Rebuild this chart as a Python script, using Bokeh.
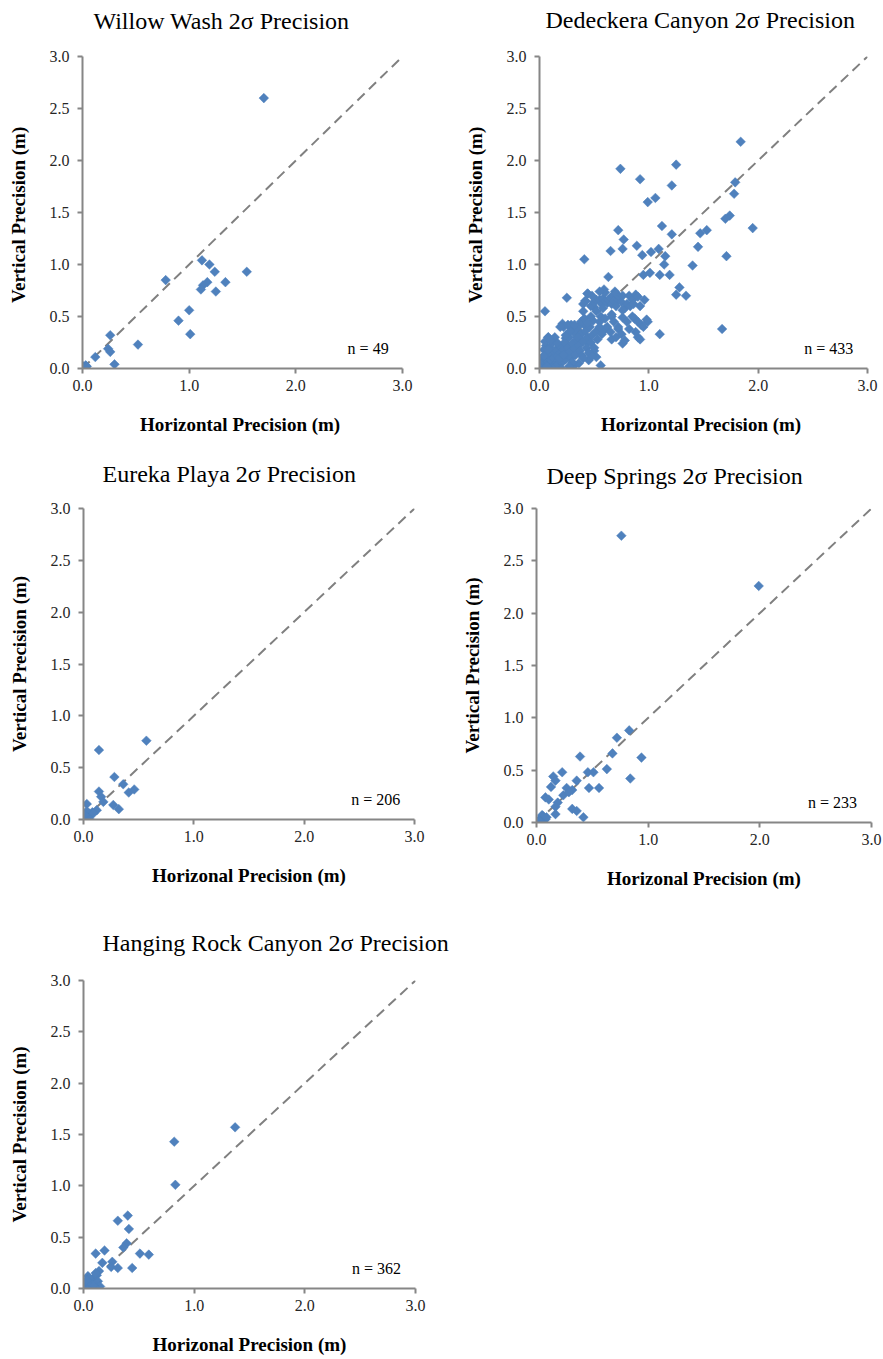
from bokeh.plotting import figure
from bokeh.layouts import column, row
from bokeh.models import Range1d, FixedTicker, PrintfTickFormatter, Label
from bokeh.core.properties import value
from bokeh.embed import file_html
from bokeh.resources import INLINE
import numpy as np

# ---- data: 2-sigma precision (m), horizontal vs vertical ----
willow_h = [1.70, 1.12, 1.19, 1.24, 1.54, 0.78, 1.34, 1.17, 1.13, 1.11, 1.25, 1.00, 0.90, 1.01,
            0.26, 0.52, 0.24, 0.26, 0.12, 0.30, 0.01, 0.02, 0.03, 0.00, 0.01, 0.04]
willow_v = [2.60, 1.04, 1.00, 0.93, 0.93, 0.85, 0.83, 0.83, 0.80, 0.76, 0.74, 0.56, 0.46, 0.33,
            0.32, 0.23, 0.19, 0.16, 0.11, 0.04, 0.02, 0.01, 0.03, 0.00, 0.00, 0.02]

dedeckera_h = [1.84, 1.25, 0.74, 0.92, 1.79, 1.21, 1.78, 1.06, 0.99, 1.74, 1.70, 1.12, 1.95, 1.53,
               1.47, 0.72, 1.21, 0.77, 1.45, 0.89, 1.09, 0.76, 0.65, 1.02, 0.94, 1.15, 1.71, 0.41,
               1.14, 1.40, 1.01, 0.95, 1.10, 1.19, 0.63, 1.28, 1.25, 1.34, 0.25, 1.67, 1.10, 0.05,
               0.44, 0.42, 0.59, 0.69, 0.40, 0.50, 0.66, 0.76, 0.87, 0.99, 0.93, 0.21, 0.29, 0.34,
               0.41, 0.49, 0.55, 0.60, 0.72, 0.66, 0.76, 0.90, 0.08, 0.24, 0.35, 0.44, 0.50, 0.52,
               0.56, 0.32,
               0.47, 0.50, 0.52, 0.55, 0.57, 0.58, 0.60, 0.62, 0.63, 0.65, 0.66, 0.67, 0.68, 0.70,
               0.70, 0.72, 0.73, 0.75, 0.76, 0.78, 0.80, 0.82, 0.83, 0.85, 0.88, 0.90, 0.92, 0.96,
               0.60, 0.55, 0.48, 0.44, 0.42, 0.40,
               0.02, 0.03, 0.05, 0.06, 0.08, 0.09, 0.10, 0.11, 0.12, 0.13, 0.14, 0.15, 0.16, 0.17,
               0.18, 0.19, 0.20, 0.21, 0.22, 0.23, 0.24, 0.25, 0.26, 0.27, 0.28, 0.29, 0.30, 0.31,
               0.32, 0.33, 0.34, 0.35, 0.36, 0.37, 0.38, 0.39, 0.40, 0.42, 0.43, 0.44, 0.45, 0.46,
               0.47, 0.48, 0.50, 0.52, 0.53, 0.55, 0.57,
               0.04, 0.06, 0.07, 0.05, 0.08, 0.10, 0.12, 0.02, 0.01, 0.03, 0.00, 0.04, 0.09, 0.15,
               0.20, 0.12, 0.07, 0.18, 0.22, 0.24, 0.28, 0.26, 0.32, 0.35, 0.38, 0.41, 0.44, 0.47,
               0.36, 0.30, 0.45, 0.48, 0.40, 0.27, 0.22, 0.19, 0.16, 0.14, 0.10, 0.08,
               0.52, 0.56, 0.60, 0.62, 0.65, 0.68, 0.70, 0.72, 0.75, 0.78, 0.80, 0.82, 0.85, 0.88,
               0.90, 0.92, 0.95, 0.98, 0.86, 0.76, 0.66, 0.58]
dedeckera_v = [2.18, 1.96, 1.92, 1.82, 1.79, 1.76, 1.68, 1.64, 1.60, 1.47, 1.44, 1.37, 1.35, 1.33,
               1.30, 1.33, 1.29, 1.24, 1.17, 1.18, 1.15, 1.15, 1.13, 1.12, 1.09, 1.08, 1.08, 1.05,
               1.00, 0.99, 0.92, 0.90, 0.90, 0.90, 0.88, 0.78, 0.71, 0.70, 0.68, 0.38, 0.33, 0.55,
               0.72, 0.65, 0.76, 0.74, 0.55, 0.59, 0.50, 0.49, 0.48, 0.45, 0.42, 0.43, 0.42, 0.38,
               0.42, 0.46, 0.45, 0.38, 0.38, 0.28, 0.24, 0.30, 0.30, 0.29, 0.30, 0.25, 0.17, 0.11,
               0.03, 0.03,
               0.60, 0.64, 0.66, 0.66, 0.62, 0.67, 0.65, 0.63, 0.66, 0.68, 0.62, 0.70, 0.65, 0.72,
               0.60, 0.66, 0.69, 0.64, 0.70, 0.58, 0.62, 0.70, 0.60, 0.66, 0.71, 0.69, 0.60, 0.66,
               0.73, 0.74, 0.70, 0.72, 0.65, 0.62,
               0.02, 0.05, 0.01, 0.08, 0.04, 0.12, 0.02, 0.07, 0.15, 0.10, 0.04, 0.18, 0.12, 0.08,
               0.22, 0.15, 0.05, 0.11, 0.18, 0.25, 0.09, 0.14, 0.20, 0.30, 0.16, 0.10, 0.24, 0.35,
               0.19, 0.13, 0.28, 0.40, 0.22, 0.17, 0.33, 0.12, 0.26, 0.36, 0.20, 0.30, 0.15, 0.40,
               0.25, 0.32, 0.20, 0.36, 0.28, 0.40, 0.33,
               0.18, 0.22, 0.14, 0.26, 0.30, 0.20, 0.25, 0.10, 0.04, 0.00, 0.02, 0.12, 0.00, 0.02,
               0.00, 0.00, 0.02, 0.10, 0.13, 0.32, 0.36, 0.42, 0.42, 0.30, 0.45, 0.48, 0.44, 0.50,
               0.05, 0.06, 0.08, 0.12, 0.10, 0.02, 0.40, 0.40, 0.25, 0.30, 0.27, 0.18,
               0.55, 0.50, 0.48, 0.40, 0.35, 0.45, 0.30, 0.40, 0.33, 0.27, 0.45, 0.38, 0.50, 0.35,
               0.45, 0.28, 0.40, 0.47, 0.62, 0.56, 0.52, 0.58]

eureka_h = [0.57, 0.14, 0.28, 0.36, 0.46, 0.41, 0.14, 0.16, 0.18, 0.27, 0.32, 0.03, 0.12, 0.08,
            0.05, 0.02, 0.01, 0.04, 0.06, 0.03, 0.00, 0.05, 0.02, 0.09, 0.01]
eureka_v = [0.76, 0.67, 0.41, 0.34, 0.29, 0.26, 0.27, 0.22, 0.17, 0.14, 0.10, 0.15, 0.09, 0.07,
            0.06, 0.05, 0.02, 0.03, 0.04, 0.08, 0.00, 0.01, 0.01, 0.06, 0.04]

deep_h = [0.76, 1.99, 0.83, 0.72, 0.39, 0.68, 0.94, 0.63, 0.23, 0.46, 0.51, 0.15, 0.17, 0.36,
          0.84, 0.13, 0.27, 0.32, 0.47, 0.56, 0.08, 0.11, 0.24, 0.29, 0.19, 0.17, 0.32, 0.36,
          0.17, 0.42, 0.02, 0.04, 0.06, 0.08, 0.05, 0.01, 0.00, 0.03, 0.09]
deep_v = [2.74, 2.26, 0.88, 0.81, 0.63, 0.66, 0.62, 0.51, 0.48, 0.48, 0.48, 0.44, 0.40, 0.40,
          0.42, 0.34, 0.33, 0.31, 0.33, 0.33, 0.24, 0.22, 0.26, 0.29, 0.19, 0.15, 0.13, 0.11,
          0.08, 0.05, 0.02, 0.04, 0.06, 0.03, 0.07, 0.00, 0.00, 0.01, 0.05]

hanging_h = [1.37, 0.82, 0.83, 0.40, 0.31, 0.41, 0.39, 0.36, 0.19, 0.11, 0.51, 0.59, 0.26, 0.17,
             0.25, 0.31, 0.44, 0.14, 0.12, 0.09, 0.07, 0.05, 0.13, 0.10, 0.04, 0.15, 0.08, 0.03,
             0.06, 0.02, 0.01, 0.00, 0.11, 0.05, 0.09, 0.03]
hanging_v = [1.57, 1.43, 1.01, 0.71, 0.66, 0.58, 0.44, 0.40, 0.37, 0.34, 0.34, 0.33, 0.26, 0.25,
             0.21, 0.20, 0.20, 0.17, 0.13, 0.10, 0.08, 0.06, 0.07, 0.04, 0.12, 0.02, 0.01, 0.03,
             0.05, 0.00, 0.02, 0.00, 0.15, 0.10, 0.03, 0.08]

one_to_one = [0.0, 3.0]
x_ticks = [0.0, 1.0, 2.0, 3.0]
y_ticks = [0.0, 0.5, 1.0, 1.5, 2.0, 2.5, 3.0]

SERIF = "Liberation Serif"
BLUE = "#4F81BD"
AXIS_GREY = "#868686"
PAGE_W = 883


def title_strip(height, titles, lefts, middles):
    """A frameless band holding the chart titles of one row (positions in pixels)."""
    s = figure(frame_width=PAGE_W, frame_height=height,
               min_border_left=0, min_border_right=0, min_border_top=0, min_border_bottom=0,
               x_range=Range1d(0, PAGE_W), y_range=Range1d(height, 0),
               x_axis_type=None, y_axis_type=None,
               output_backend="svg", toolbar_location=None,
               background_fill_color="white", border_fill_color="white")
    s.outline_line_color = None
    s.grid.visible = False
    s.text(x=lefts, y=middles, text=titles, text_font=value(SERIF),
           text_font_size="24px", text_align="left", text_baseline="middle",
           text_color="black")
    return s


def panel(xs, ys, count, xlabel, ylabel, frame, border):
    fw, fh = frame
    left, top, right, bottom = border
    p = figure(frame_width=fw, frame_height=fh,
               min_border_left=left, min_border_top=top,
               min_border_right=right, min_border_bottom=bottom,
               x_range=Range1d(0, 3), y_range=Range1d(0, 3),
               output_backend="svg", toolbar_location=None,
               background_fill_color="white", border_fill_color="white")
    p.outline_line_color = None
    p.grid.visible = False

    for ax, ticks in ((p.xaxis[0], x_ticks), (p.yaxis[0], y_ticks)):
        ax.ticker = FixedTicker(ticks=ticks)
        ax.formatter = PrintfTickFormatter(format="%.1f")
        ax.axis_line_color = AXIS_GREY
        ax.axis_line_width = 2
        ax.major_tick_line_color = AXIS_GREY
        ax.major_tick_line_width = 2
        ax.major_tick_out = 5
        ax.major_tick_in = 0
        ax.minor_tick_line_color = None
        ax.major_label_text_font = SERIF
        ax.major_label_text_font_size = "16px"
        ax.major_label_text_color = "#262626"
        ax.axis_label_text_font = SERIF
        ax.axis_label_text_font_size = "19px"
        ax.axis_label_text_font_style = "bold"
        ax.axis_label_text_color = "black"
    p.xaxis[0].axis_label = xlabel
    p.yaxis[0].axis_label = ylabel
    p.xaxis[0].major_label_standoff = 6
    p.yaxis[0].major_label_standoff = 8
    p.xaxis[0].axis_label_standoff = 20
    p.yaxis[0].axis_label_standoff = 18

    # 1:1 reference line
    p.line(one_to_one, one_to_one, line_color="#808080", line_width=2, line_dash="10 6")
    p.scatter(xs, ys, marker="square", size=6.8, angle=np.pi / 4,
              fill_color=BLUE, line_color=BLUE, line_width=0.5)

    p.add_layout(Label(x=2.87, y=0.19, text=f"n = {count}", text_align="right",
                       text_baseline="middle", text_font=SERIF, text_font_size="16px",
                       text_color="black"))
    return p


strip1 = title_strip(46, ["Willow Wash 2σ Precision", "Dedeckera Canyon 2σ Precision"],
                     [93, 545], [20, 19])
p1 = panel(willow_h, willow_v, 49,
           "Horizontal  Precision (m)", "Vertical Precision  (m)",
           (320, 312), (82, 10, 38, 82))
p2 = panel(dedeckera_h, dedeckera_v, 433,
           "Horizontal  Precision (m)", "Vertical Precision  (m)",
           (328, 312), (99, 10, 16, 82))

strip2 = title_strip(48, ["Eureka Playa 2σ Precision", "Deep Springs 2σ Precision"],
                     [102, 546], [23, 25])
p3 = panel(eureka_h, eureka_v, 206,
           "Horizonal Precision (m)", "Vertical Precision (m)",
           (331, 311), (83, 10, 26, 81))
p4 = panel(deep_h, deep_v, 233,
           "Horizonal Precision (m)", "Vertical Precision (m)",
           (335, 314), (96, 10, 12, 78))

strip3 = title_strip(70, ["Hanging  Rock Canyon 2σ Precision"], [102], [42])
p5 = panel(hanging_h, hanging_v, 362,
           "Horizonal Precision (m)", "Vertical Precision (m)",
           (332, 308), (83, 10, 25, 71))

layout = column(strip1, row(p1, p2), strip2, row(p3, p4), strip3, row(p5))
open("out.html", "w").write(file_html(layout, INLINE))
